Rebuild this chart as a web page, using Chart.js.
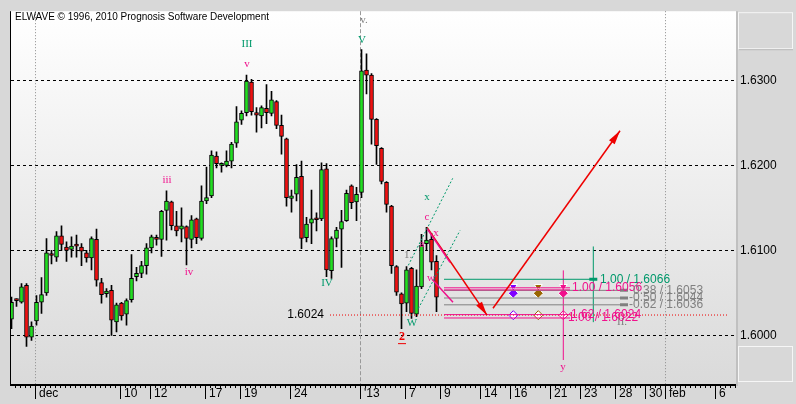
<!DOCTYPE html>
<html>
<head>
<meta charset="utf-8">
<script src="https://cdn.jsdelivr.net/npm/chart.js@4.4.0/dist/chart.umd.min.js"></script>
<style>
  html, body { margin: 0; padding: 0; background: #d8d8d8; }
  #wrap { width: 796px; height: 404px; }
</style>
</head>
<body>
<div id="wrap"><canvas id="chart" width="796" height="404"></canvas></div>
<script>
// ================= DATA =================
// candle index runs along x; future dates keep the same spacing
const xTickPos = [4.8, 21.8, 27.8, 38.8, 45.8, 55.8, 69.8, 78.8, 85.8, 93.8, 99.8, 107.8, 113.8, 120.8, 126.8, 130.8, 140.8];
const xTickLabels = ["dec", "10", "12", "17", "19", "24", "'13", "7", "9", "14", "16", "21", "23", "28", "30", "feb", "6"];
const monthMarks = [4.8, 69.8, 130.8];
const yTicks = [1.60, 1.61, 1.62, 1.63];

const opens = [1.6019, 1.6042, 1.6039, 1.6059, 1.5998, 1.6017, 1.6039, 1.6050, 1.6096, 1.6092,
  1.6117, 1.6104, 1.6101, 1.6107, 1.6104, 1.6097, 1.6091, 1.6113, 1.6062, 1.6049,
  1.6053, 1.6016, 1.6038, 1.6025, 1.6042, 1.6069, 1.6073, 1.6082, 1.6103, 1.6115,
  1.6113, 1.6147, 1.6157, 1.6129, 1.6125, 1.6128, 1.6113, 1.6137, 1.6114, 1.6158,
  1.6164, 1.6211, 1.6200, 1.6200, 1.6205, 1.6226, 1.6253, 1.6262, 1.6298, 1.6262,
  1.6258, 1.6267, 1.6261, 1.6275, 1.6247, 1.6231, 1.6161, 1.6166, 1.6187, 1.6115,
  1.6132, 1.6138, 1.6137, 1.6196, 1.6076, 1.6114, 1.6125, 1.6135, 1.6176, 1.6157,
  1.6168, 1.6312, 1.6306, 1.6254, 1.6220, 1.6180, 1.6152, 1.6081, 1.6049, 1.6038,
  1.6079, 1.6025, 1.6057, 1.6108, 1.6113, 1.6087];
const highs = [1.6045, 1.6043, 1.6061, 1.6061, 1.6016, 1.6047, 1.6068, 1.6114, 1.6100, 1.6122,
  1.6129, 1.6110, 1.6116, 1.6118, 1.6108, 1.6100, 1.6116, 1.6125, 1.6067, 1.6055,
  1.6059, 1.6038, 1.6039, 1.6043, 1.6095, 1.6080, 1.6087, 1.6108, 1.6118, 1.6118,
  1.6147, 1.6170, 1.6158, 1.6146, 1.6150, 1.6129, 1.6141, 1.6138, 1.6176, 1.6198,
  1.6217, 1.6216, 1.6203, 1.6217, 1.6227, 1.6269, 1.6264, 1.6306, 1.6301, 1.6268,
  1.6270, 1.6295, 1.6287, 1.6276, 1.6259, 1.6232, 1.6171, 1.6201, 1.6205, 1.6139,
  1.6171, 1.6144, 1.6203, 1.6202, 1.6116, 1.6127, 1.6147, 1.6171, 1.6177, 1.6174,
  1.6336, 1.6331, 1.6308, 1.6255, 1.6221, 1.6181, 1.6153, 1.6082, 1.6050, 1.6081,
  1.6080, 1.6077, 1.6119, 1.6127, 1.6120, 1.6094];
const lows = [1.6008, 1.6034, 1.6038, 1.5987, 1.5994, 1.6012, 1.6026, 1.6047, 1.6084, 1.6087,
  1.6100, 1.6087, 1.6092, 1.6092, 1.6082, 1.6086, 1.6077, 1.6058, 1.6038, 1.6045,
  1.6000, 1.6004, 1.6018, 1.6012, 1.6039, 1.6064, 1.6068, 1.6072, 1.6097, 1.6106,
  1.6093, 1.6112, 1.6124, 1.6117, 1.6110, 1.6083, 1.6103, 1.6108, 1.6112, 1.6155,
  1.6162, 1.6197, 1.6192, 1.6198, 1.6197, 1.6221, 1.6248, 1.6258, 1.6259, 1.6239,
  1.6244, 1.6249, 1.6258, 1.6243, 1.6213, 1.6152, 1.6145, 1.6158, 1.6102, 1.6110,
  1.6108, 1.6123, 1.6135, 1.6069, 1.6067, 1.6104, 1.6080, 1.6134, 1.6149, 1.6135,
  1.6162, 1.6284, 1.6225, 1.6201, 1.6178, 1.6145, 1.6073, 1.6047, 1.6008, 1.6028,
  1.6020, 1.6022, 1.6055, 1.6100, 1.6077, 1.6028];
const closes = [1.6039, 1.6041, 1.6057, 1.5998, 1.6011, 1.6039, 1.6048, 1.6097, 1.6094, 1.6117,
  1.6107, 1.6100, 1.6105, 1.6105, 1.6099, 1.6091, 1.6114, 1.6065, 1.6048, 1.6052,
  1.6018, 1.6036, 1.6023, 1.6041, 1.6067, 1.6073, 1.6082, 1.6103, 1.6116, 1.6113,
  1.6146, 1.6158, 1.6129, 1.6123, 1.6129, 1.6114, 1.6136, 1.6115, 1.6158, 1.6162,
  1.6212, 1.6202, 1.6201, 1.6205, 1.6225, 1.6251, 1.6261, 1.6299, 1.6263, 1.6259,
  1.6268, 1.6262, 1.6277, 1.6247, 1.6234, 1.6162, 1.6164, 1.6186, 1.6114, 1.6131,
  1.6137, 1.6136, 1.6195, 1.6077, 1.6114, 1.6124, 1.6134, 1.6167, 1.6156, 1.6166,
  1.6311, 1.6306, 1.6254, 1.6223, 1.6181, 1.6154, 1.6082, 1.6051, 1.6037, 1.6077,
  1.6026, 1.6058, 1.6106, 1.6112, 1.6086, 1.6045];

// wave count labels: text, time index, price
const waveText = ["III", "v", "iii", "iv", "v.", "V", "IV", "x", "c", "x", "a", "1.", "w", "W", "2", "y", "II."];
const waveX = [47.1, 47.1, 31.1, 35.5, 70.5, 70.1, 63.1, 83.1, 83.1, 84.9, 82.1, 79.3, 83.9, 80.1, 78.1, 110.3, 122.1];
const waveY = [1.63426, 1.63191, 1.61832, 1.60742, 1.63707, 1.63472, 1.60613, 1.61621, 1.61386, 1.61199,
  1.6107, 1.60941, 1.60672, 1.60144, 1.5998, 1.59628, 1.60156];
const waveKind = ["green", "pink", "pink", "pink", "gray", "green", "green", "green", "pink", "pink",
  "pink", "gray", "pink", "green", "red", "pink", "gray"];

// channel, projection arrows and small pink segments: [x1, y1, x2, y2]
const channelLines = [[79.36, 1.60824, 88.24, 1.61847], [81.36, 1.60316, 89.7, 1.61234]];
const pinkLines = [[83.1, 1.61257, 87.7, 1.60859], [84.3, 1.60648, 88.3, 1.6039]];
const arrowLines = [[83.1, 1.61269, 95.1, 1.60238], [96.3, 1.6032, 121.7, 1.62406]];

// target levels
const levelPrices = [1.6066, 1.6056, 1.60535, 1.6053, 1.6044, 1.6036, 1.60245, 1.60205];
const levelFrom = 86.5;
const levelTo = [117.1, 111.7, 111.7, 123.1, 123.1, 123.1, 111.7, 111.7];
const levelKind = ["green", "pink", "pink", "gray", "gray", "gray", "pink", "pink"];
const levelTexts = ["1.00 / 1.6066", "1.00 / 1.6056", "0.38 / 1.6053", "-0.50 / 1.6044", "-0.62 / 1.6036", "1.62 / 1.6024", "1.00 / 1.6022"];
const levelTextX = [117.7, 112.1, 124.3, 123.5, 123.5, 111.9, 111.3];
const levelTextY = [1.6066, 1.6056, 1.6053, 1.6044, 1.6036, 1.6024, 1.60205];
const levelTextKind = ["green", "pink", "gray", "gray", "gray", "pink", "pink"];
const stubX = [116.36, 122.5, 122.5, 122.5];
const stubY = [1.6066, 1.6053, 1.6044, 1.6036];
const stubKind = ["green", "gray", "gray", "gray"];

const supportPrice = 1.6024;
const supportFrom = 63.7;
const supportTo = 143.3;

const targetTimes = [110.36, 116.36];
const targetLow = [1.59711, 1.60156];
const targetHigh = [1.60765, 1.61046];
const targetKind = ["pink", "green"];

const markerTimes = [100.36, 105.36, 110.36];
const markerKind = ["purple", "brown", "pink"];
const markerTopPrice = 1.60572;
const markerMidPrice = 1.60496;
const markerLowPrice = 1.60238;

// ================= STYLE =================
const colors = {
  green: "#00996b", pink: "#f0108c", gray: "#808080", red: "#ee0000",
  purple: "#8000ff", brown: "#996600"
};
const upColor = "#22dd22";
const downColor = "#ee1111";
const sans = "'Liberation Sans', Arial, sans-serif";
const serif = "'Liberation Serif', 'Times New Roman', serif";

// ================= DATASETS =================
const segDataset = (s, color, width, dash) => ({
  type: "line",
  data: [{ x: s[0], y: s[1] }, { x: s[2], y: s[3] }],
  borderColor: color, borderWidth: width, borderDash: dash || [],
  pointRadius: 0, fill: false, tension: 0, order: 0
});

const datasets = [];

channelLines.forEach(s => datasets.push(segDataset(s, colors.green, 1, [2, 2])));
pinkLines.forEach(s => datasets.push(segDataset(s, colors.pink, 1.5)));
arrowLines.forEach(s => datasets.push(segDataset(s, colors.red, 1.5)));

levelPrices.forEach((p, i) => {
  datasets.push(segDataset([levelFrom, p, levelTo[i], p], colors[levelKind[i]], 1));
});
datasets.push(segDataset([supportFrom, supportPrice, supportTo, supportPrice], colors.red, 1, [1, 2]));

targetTimes.forEach((t, i) => {
  datasets.push(segDataset([t, targetLow[i], t, targetHigh[i]], colors[targetKind[i]], 1));
});

stubX.forEach((x, i) => {
  datasets.push({
    type: "scatter", data: [{ x, y: stubY[i] }], pointStyle: "line", pointRadius: 4,
    borderColor: colors[stubKind[i]], borderWidth: 3, order: 0
  });
});

markerTimes.forEach((t, i) => {
  const c = colors[markerKind[i]];
  datasets.push({
    type: "scatter", data: [{ x: t, y: markerLowPrice }], pointStyle: "rectRot", pointRadius: 4.5,
    backgroundColor: "#ffffff", borderColor: c, borderWidth: 1, order: 0
  });
  datasets.push({
    type: "scatter", data: [{ x: t, y: markerMidPrice }], pointStyle: "rectRot", pointRadius: 5,
    backgroundColor: c, borderColor: "#ffffff", borderWidth: 1, order: 0
  });
  datasets.push({
    type: "scatter", data: [{ x: t, y: markerTopPrice }], pointStyle: "triangle", rotation: 180, pointRadius: 4.5,
    backgroundColor: c, borderColor: "#ffffff", borderWidth: 1, order: 0
  });
});

// candle bodies and wicks
datasets.push({
  type: "bar",
  data: opens.map((o, i) => ({ x: i, y: [o, closes[i]] })),
  backgroundColor: opens.map((o, i) => closes[i] >= o ? upColor : downColor),
  borderColor: "#000", borderWidth: 1, borderSkipped: false,
  barThickness: 4, minBarLength: 2, grouped: false, order: 1
});
datasets.push({
  type: "bar",
  data: lows.map((l, i) => ({ x: i, y: [l, highs[i]] })),
  backgroundColor: "#000", borderWidth: 0,
  barThickness: 1, grouped: false, order: 2
});

// ================= DRAWING PLUGIN =================
const elwavePlugin = {
  id: "elwave",
  beforeDraw(chart) {
    const { ctx, chartArea: a, width, height } = chart;
    ctx.save();
    ctx.fillStyle = "#d8d8d8";
    ctx.fillRect(0, 0, width, height);
    const g = ctx.createLinearGradient(0, a.top, 0, a.bottom);
    g.addColorStop(0, "#ffffff");
    g.addColorStop(1, "#dadada");
    ctx.fillStyle = g;
    ctx.fillRect(a.left, a.top, a.right - a.left, a.bottom - a.top);

    // right panel frame
    ctx.fillStyle = "#c0c0c0";
    ctx.fillRect(a.right, a.top, 2, a.bottom - a.top + 2);
    ctx.strokeStyle = "#f6f6f6";
    ctx.lineWidth = 1;
    ctx.strokeRect(a.right + 2.5, a.top + 1.5, 54, 36);
    ctx.strokeRect(a.right + 2.5, a.bottom - 37.5, 54, 35);
    ctx.fillStyle = "#b8b8b8";
    ctx.fillRect(a.right + 3, a.top + 38, 54, 1);
    ctx.restore();
  },
  beforeDatasetsDraw(chart) {
    const { ctx, chartArea: a, scales: { x } } = chart;
    ctx.save();
    monthMarks.forEach((m, i) => {
      const px = Math.floor(x.getPixelForValue(m)) + 0.5;
      ctx.beginPath();
      ctx.strokeStyle = i === 1 ? "#999999" : "#8c8c8c";
      ctx.setLineDash(i === 1 ? [4, 2] : [1, 2]);
      ctx.moveTo(px, a.top);
      ctx.lineTo(px, a.bottom);
      ctx.stroke();
    });
    ctx.restore();
  },
  afterDatasetsDraw(chart) {
    const { ctx, chartArea: a, scales: { x, y } } = chart;
    ctx.save();

    // arrow heads
    arrowLines.forEach(s => {
      const x1 = x.getPixelForValue(s[0]), y1 = y.getPixelForValue(s[1]);
      const x2 = x.getPixelForValue(s[2]), y2 = y.getPixelForValue(s[3]);
      const ang = Math.atan2(y2 - y1, x2 - x1);
      const len = 14, half = 3.5;
      const bx = x2 - len * Math.cos(ang), by = y2 - len * Math.sin(ang);
      ctx.beginPath();
      ctx.fillStyle = colors.red;
      ctx.moveTo(x2, y2);
      ctx.lineTo(bx - half * Math.sin(ang), by + half * Math.cos(ang));
      ctx.lineTo(bx + half * Math.sin(ang), by - half * Math.cos(ang));
      ctx.closePath();
      ctx.fill();
    });

    // wave labels
    ctx.textAlign = "center";
    ctx.textBaseline = "middle";
    waveText.forEach((t, i) => {
      const px = x.getPixelForValue(waveX[i]), py = y.getPixelForValue(waveY[i]);
      ctx.fillStyle = colors[waveKind[i]];
      ctx.font = (waveKind[i] === "red" ? "bold 12px " : "11px ") + serif;
      ctx.fillText(t, px, py);
      if (waveKind[i] === "red") ctx.fillRect(px - 4, py + 6, 8, 1);
    });

    // level labels
    ctx.textAlign = "left";
    ctx.font = "12px " + sans;
    levelTexts.forEach((t, i) => {
      ctx.fillStyle = colors[levelTextKind[i]];
      ctx.fillText(t, x.getPixelForValue(levelTextX[i]), y.getPixelForValue(levelTextY[i]));
    });

    // support value
    ctx.textAlign = "right";
    ctx.fillStyle = "#000";
    ctx.fillText(supportPrice.toFixed(4), x.getPixelForValue(supportFrom) - 6, y.getPixelForValue(supportPrice));

    // title
    ctx.textAlign = "left";
    ctx.font = "10px " + sans;
    ctx.fillText("ELWAVE \u00a9 1996, 2010 Prognosis Software Development", a.left + 4, a.top + 6);

    // frame: left border, bottom axis
    ctx.fillStyle = "#000";
    ctx.fillRect(a.left - 1, a.top, 1, a.bottom - a.top + 2);
    ctx.fillRect(a.left - 1, a.bottom, a.right - a.left + 1, 2);

    // minor ticks every candle
    for (let t = x.min - 0.1; t <= x.max; t += 1) {
      const px = Math.floor(x.getPixelForValue(t));
      if (px < a.left || px > a.right) continue;
      ctx.fillRect(px, a.bottom + 2, 1, 2);
    }
    // major ticks and labels
    ctx.font = "12px " + sans;
    ctx.textBaseline = "middle";
    xTickPos.forEach((t, i) => {
      const px = Math.floor(x.getPixelForValue(t));
      ctx.fillRect(px, a.bottom + 2, 1, 13);
      ctx.fillText(xTickLabels[i], px + 4, a.bottom + 10);
    });
    ctx.restore();
  }
};

// ================= CHART =================
new Chart(document.getElementById("chart"), {
  type: "bar",
  data: { datasets },
  options: {
    responsive: false,
    animation: false,
    events: [],
    layout: { padding: { left: 11, top: 10, right: 0, bottom: 20 } },
    plugins: { legend: { display: false }, tooltip: { enabled: false } },
    scales: {
      x: { type: "linear", display: false, min: -0.1, max: 144.9, offset: false },
      y: {
        type: "linear",
        position: "right",
        min: 1.59429,
        max: 1.63812,
        afterFit: s => { s.width = 60; },
        afterBuildTicks: s => { s.ticks = yTicks.map(v => ({ value: v })); },
        ticks: {
          padding: 4, color: "#000",
          font: { family: sans, size: 12 },
          callback: v => Number(v).toFixed(4)
        },
        grid: { color: "#000", lineWidth: 1, drawTicks: false },
        border: { display: false, dash: [3, 3] }
      }
    }
  },
  plugins: [elwavePlugin]
});
</script>
</body>
</html>
